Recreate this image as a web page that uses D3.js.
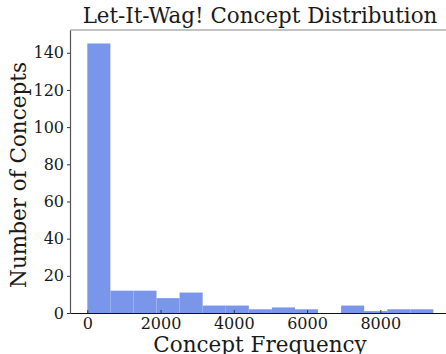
<!DOCTYPE html>
<html>
<head>
<meta charset="utf-8">
<script src="https://cdn.jsdelivr.net/npm/d3@7"></script>
<style>
  html, body { margin: 0; padding: 0; background: #fff; }
  svg { display: block; }
  text { font-family: "DejaVu Serif", serif; fill: #1a1a1a; }
</style>
</head>
<body>
<svg id="chart" width="446" height="354"></svg>
<script>
// Histogram bins (concept frequency) and the number of concepts per bin
const binEdges = [0, 630, 1260, 1890, 2520, 3150, 3780, 4410, 5040, 5670, 6300, 6930, 7560, 8190, 8820, 9450];
const binCounts = [145, 12, 12, 8, 11, 4, 4, 2, 3, 2, 0, 4, 1, 2, 2];
const xTicks = [0, 2000, 4000, 6000, 8000];
const yTicks = [0, 20, 40, 60, 80, 100, 120, 140];

const svg = d3.select("#chart");
const plotLeft = 70, plotTop = 30, plotBottom = 313, plotRight = 450.7;

// 5% padding either side of the data range
const xMin = binEdges[0], xMax = binEdges[binEdges.length - 1];
const pad = (xMax - xMin) * 0.05;
const x = d3.scaleLinear().domain([xMin - pad, xMax + pad]).range([plotLeft, plotRight]);
const y = d3.scaleLinear().domain([0, d3.max(binCounts) * 1.05]).range([plotBottom, plotTop]);

const bins = binCounts.map((c, i) => ({ x0: binEdges[i], x1: binEdges[i + 1], count: c }));

svg.append("g").selectAll("rect")
  .data(bins)
  .join("rect")
  .attr("x", d => x(d.x0))
  .attr("width", d => x(d.x1) - x(d.x0))
  .attr("y", d => y(d.count))
  .attr("height", d => y(0) - y(d.count))
  .attr("fill", "#7a96ea");

// Axes
const xAxis = d3.axisBottom(x).tickValues(xTicks).tickFormat(d3.format("d"))
  .tickSizeInner(-3).tickSizeOuter(0).tickPadding(5);
const gx = svg.append("g").attr("transform", `translate(0,${plotBottom})`).call(xAxis);
gx.select(".domain").attr("stroke", "#111").attr("stroke-width", 1.2);
gx.selectAll(".tick line").attr("stroke", "#333");
gx.selectAll(".tick text").attr("font-size", 16).attr("font-family", "DejaVu Serif").attr("fill", "#1a1a1a");

const yAxis = d3.axisLeft(y).tickValues(yTicks)
  .tickSizeInner(3).tickSizeOuter(0).tickPadding(3);
const gy = svg.append("g").attr("transform", `translate(${plotLeft},0)`).call(yAxis);
gy.select(".domain").attr("stroke", "#555").attr("stroke-width", 1.2);
gy.selectAll(".tick line").attr("stroke", "#333");
gy.selectAll(".tick text").attr("font-size", 16).attr("font-family", "DejaVu Serif").attr("fill", "#1a1a1a");

// Top spine
svg.append("line")
  .attr("x1", plotLeft).attr("x2", plotRight)
  .attr("y1", plotTop).attr("y2", plotTop)
  .attr("stroke", "#888").attr("stroke-width", 1.2);

// Title and axis labels
svg.append("text")
  .attr("x", 260).attr("y", 23)
  .attr("text-anchor", "middle")
  .attr("font-size", 21.4)
  .text("Let-It-Wag! Concept Distribution");

svg.append("text")
  .attr("x", 260).attr("y", 352)
  .attr("text-anchor", "middle")
  .attr("font-size", 21.5)
  .text("Concept Frequency");

svg.append("text")
  .attr("transform", "translate(26,175) rotate(-90)")
  .attr("text-anchor", "middle")
  .attr("font-size", 21.5)
  .text("Number of Concepts");
</script>
</body>
</html>
